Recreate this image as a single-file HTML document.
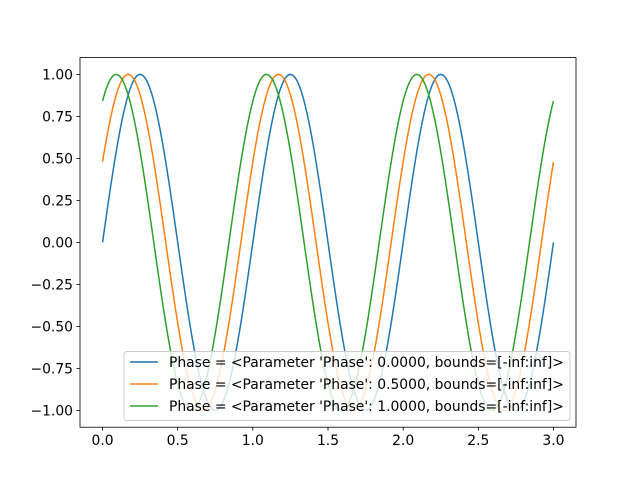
<!DOCTYPE html>
<html><head><meta charset="utf-8"><style>body{margin:0;background:#fff}svg{display:block}text{font-family:"DejaVu Sans","Liberation Sans",sans-serif;font-size:13.89px;fill:#000}</style></head>
<body>
<svg id="chart" width="640" height="480">
<rect x="0" y="0" width="640" height="480" fill="#fff"/>
<g id="plot"></g>
<rect x="80" y="57.6" width="496" height="369.6" fill="none" stroke="#000" stroke-width="0.8"/>
<g id="ticks"></g>
<g id="legend"></g>
</svg>
<script>
const phases = [0.0, 0.5, 1.0];
const colors = ['#1f77b4', '#ff7f0e', '#2ca02c'];
const xStart = 0, xEnd = 3, frequency = 1, nSamples = 300;
const xTicks = [0.0, 0.5, 1.0, 1.5, 2.0, 2.5, 3.0];
const xTickLabels = ['0.0', '0.5', '1.0', '1.5', '2.0', '2.5', '3.0'];
const yTicks = [-1.0, -0.75, -0.5, -0.25, 0.0, 0.25, 0.5, 0.75, 1.0];
const yTickLabels = ['−1.00', '−0.75', '−0.50', '−0.25', '0.00', '0.25', '0.50', '0.75', '1.00'];

const NS = 'http://www.w3.org/2000/svg';
const L = 80, R = 576, T = 57.6, B = 427.2;
const xmin = -0.15, xmax = 3.15, ymin = -1.1, ymax = 1.1;
const xs = v => L + (v - xmin) / (xmax - xmin) * (R - L);
const ys = v => B - (v - ymin) / (ymax - ymin) * (B - T);
function mk(tag, attrs, parent) { const e = document.createElementNS(NS, tag); for (const k in attrs) e.setAttribute(k, attrs[k]); parent.appendChild(e); return e; }

const plot = document.getElementById('plot');
phases.forEach((p, i) => {
  let d = '';
  for (let k = 0; k <= nSamples; k++) {
    const x = xStart + (xEnd - xStart) * k / nSamples;
    const y = Math.sin(2 * Math.PI * frequency * x + p);
    d += (k ? 'L' : 'M') + xs(x).toFixed(2) + ',' + ys(y).toFixed(2);
  }
  const path = mk('path', { d: d, fill: 'none', stroke: colors[i], 'stroke-width': 1.5 }, plot);
  
  
});

const tg = document.getElementById('ticks');
xTicks.forEach((v, i) => {
  const x = xs(v);
  const t = mk('line', { x1: x, x2: x, y1: B, y2: B + 3.5, stroke: '#000', 'stroke-width': 0.8 }, tg);
  
  
  const lb = mk('text', { x: x, y: B + 18, 'text-anchor': 'middle' }, tg);
  lb.textContent = xTickLabels[i];
  
  
});
yTicks.forEach((v, i) => {
  const y = ys(v);
  const t = mk('line', { x1: L - 3.5, x2: L, y1: y, y2: y, stroke: '#000', 'stroke-width': 0.8 }, tg);
  
  
  const lb = mk('text', { x: L - 7, y: y + 5, 'text-anchor': 'end' }, tg);
  lb.textContent = yTickLabels[i];
  
  
});

const lg = document.getElementById('legend');
const box = mk('rect', { x: 124, y: 351.5, width: 446, height: 69, rx: 3, fill: 'rgba(255,255,255,0.8)', stroke: '#ccc', 'stroke-width': 1 }, lg);


phases.forEach((p, i) => {
  const y = 362 + i * 22;
  const ln = mk('line', { x1: 130, x2: 158, y1: y, y2: y, stroke: colors[i], 'stroke-width': 1.5 }, lg);
  
  
  const tx = mk('text', { x: 169, y: y + 5 }, lg);
  tx.textContent = "Phase = <Parameter 'Phase': " + p.toFixed(4) + ", bounds=[-inf:inf]>";
  
  
});
</script>
</body></html>
